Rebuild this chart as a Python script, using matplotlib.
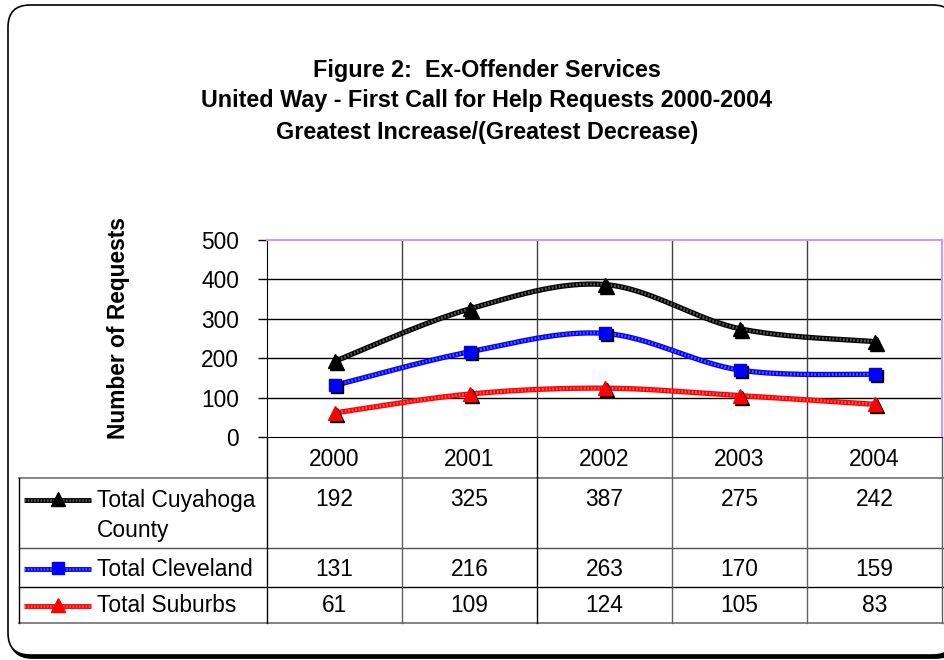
import numpy as np
import matplotlib
matplotlib.use("Agg")
import matplotlib.pyplot as plt
import matplotlib.transforms as mtransforms
from matplotlib.patches import FancyBboxPatch

plt.rcParams['font.family'] = ['Liberation Sans', 'DejaVu Sans']

# data
years = ['2000', '2001', '2002', '2003', '2004']
series_names = [['Total Cuyahoga', 'County'], ['Total Cleveland'], ['Total Suburbs']]
cuyahoga = [192, 325, 387, 275, 242]
cleveland = [131, 216, 263, 170, 159]
suburbs = [61, 109, 124, 105, 83]
y_ticks = [0, 100, 200, 300, 400, 500]
title_lines = ['Figure 2:  Ex-Offender Services',
               'United Way - First Call for Help Requests 2000-2004',
               'Greatest Increase/(Greatest Decrease)']

colors = ['#000000', '#0000ff', '#ff0000']
markers = ['^', 's', '^']
values = [cuyahoga, cleveland, suburbs]

W, H = 944, 660
FS = 16.4


def smooth(xs, ys, n=40):
    # Excel-style smoothed line (Catmull-Rom bezier)
    p = np.column_stack([xs, ys]).astype(float)
    p = np.vstack([p[0], p, p[-1]])
    out = []
    for i in range(1, len(p) - 2):
        p0, p3 = p[i], p[i + 1]
        c1 = p0 + (p[i + 1] - p[i - 1]) / 6
        c2 = p3 - (p[i + 2] - p[i]) / 6
        t = np.linspace(0, 1, n)[:, None]
        seg = (1 - t) ** 3 * p0 + 3 * (1 - t) ** 2 * t * c1 + 3 * (1 - t) * t ** 2 * c2 + t ** 3 * p3
        out.append(seg if i == 1 else seg[1:])
    out = np.vstack(out)
    return out[:, 0], out[:, 1]


def textured(axis, x, y, c, lw, **kw):
    # thick line with a light dotted texture, like the pattern fill in the original
    axis.plot(x, y, color=c, lw=lw, solid_capstyle='butt', **kw)
    z = kw.pop('zorder', 2) + 0.5
    axis.plot(x, y, color='white', lw=lw * 0.55, alpha=0.35, dashes=(0.6, 0.6),
              dash_capstyle='butt', zorder=z, **kw)


fig = plt.figure(figsize=(W / 100, H / 100), dpi=100)

# full-figure pixel axes for frame, titles and data table
bg = fig.add_axes([0, 0, 1, 1], zorder=0)
bg.set_xlim(0, W)
bg.set_ylim(H, 0)
bg.axis('off')

shadow = FancyBboxPatch((10.5, 7.5), 947, 650, boxstyle='round,pad=0,rounding_size=22',
                        fc='black', ec='black', lw=2)
bg.add_patch(shadow)
box = FancyBboxPatch((8, 5), 947, 650, boxstyle='round,pad=0,rounding_size=22',
                     fc='white', ec='black', lw=1.2)
bg.add_patch(box)

for i, line in enumerate(title_lines):
    bg.text(487, 70 + 31 * i, line, ha='center', va='center', fontsize=16.8,
            fontweight='bold')

bg.text(118, 328, 'Number of Requests', rotation=90, ha='center', va='center',
        fontsize=FS, fontweight='bold')

# plot area
L, R, T, B = 267, 942, 240, 437
ax = fig.add_axes([L / W, 1 - B / H, (R - L) / W, (B - T) / H], zorder=2)
ax.set_facecolor('none')
ax.set_xlim(-0.5, 4.5)
ax.set_ylim(0, 500)
ax.set_yticks(y_ticks)
ax.set_yticklabels([str(v) for v in y_ticks], fontsize=FS)
ax.set_xticks([])
ax.tick_params(axis='y', length=6.5, width=1, pad=13.5, direction='out')
for s in ['top', 'right']:
    ax.spines[s].set_color('#cc99ff')
    ax.spines[s].set_linewidth(1.5)
ax.spines['left'].set_color('black')
ax.spines['bottom'].set_color('black')
for v in y_ticks[1:-1]:
    ax.axhline(v, color='black', lw=1, zorder=1)
for b in np.arange(0.5, 4.5, 1):
    ax.axvline(b, color='#404040', lw=1, zorder=1)

xs = np.arange(len(years))
shadow_tr = mtransforms.offset_copy(ax.transData, fig=fig, x=2, y=-2, units='dots')
for vals, c, m in zip(values, colors, markers):
    sx, sy = smooth(xs, vals)
    textured(ax, sx, sy, c, 3.8, zorder=3)
    ms = 10 if m == '^' else 8.5
    ax.plot(xs, vals, ls='none', marker=m, ms=ms, color='black', mec='black',
            transform=shadow_tr, zorder=5)
    ax.plot(xs, vals, ls='none', marker=m, ms=ms, color=c, mec=c, zorder=6)

# data table
col_edges = [L + 135 * i for i in range(6)]
tl, tr = 19, 943
bg.plot([tl, tr], [478, 478], color='#707070', lw=1.2)
bg.plot([tl, tr], [548, 548], color='#505050', lw=1.0)
bg.plot([tl, tr], [587, 587], color='black', lw=1.0)
bg.plot([tl, tr], [623, 623], color='#707070', lw=1.2)
bg.plot([tl, tl], [478, 623], color='black', lw=1.0)
for i, x in enumerate(col_edges):
    col = 'black' if i in (0, 2) else '#606060'
    bg.plot([x, x], [B, 623], color=col, lw=1.0)

for i, yr in enumerate(years):
    bg.text(col_edges[i] + 67.5, 459, yr, ha='center', va='center', fontsize=FS)

row_y = [500, 569, 606]
for r, (names, vals, c, m) in enumerate(zip(series_names, values, colors, markers)):
    y = row_y[r]
    textured(bg, [24, 91], [y, y], c, 3.5, zorder=2)
    ms = 10 if m == '^' else 8.5
    bg.plot([58], [y - 1], marker=m, ms=ms, color=c, mec=c, zorder=4)
    for k, nm in enumerate(names):
        bg.text(97, y + 31 * k, nm, ha='left', va='center', fontsize=FS)
    for i, v in enumerate(vals):
        bg.text(col_edges[i] + 67.5, y, str(v), ha='center', va='center', fontsize=FS)

fig.savefig('out.png', dpi=100)
